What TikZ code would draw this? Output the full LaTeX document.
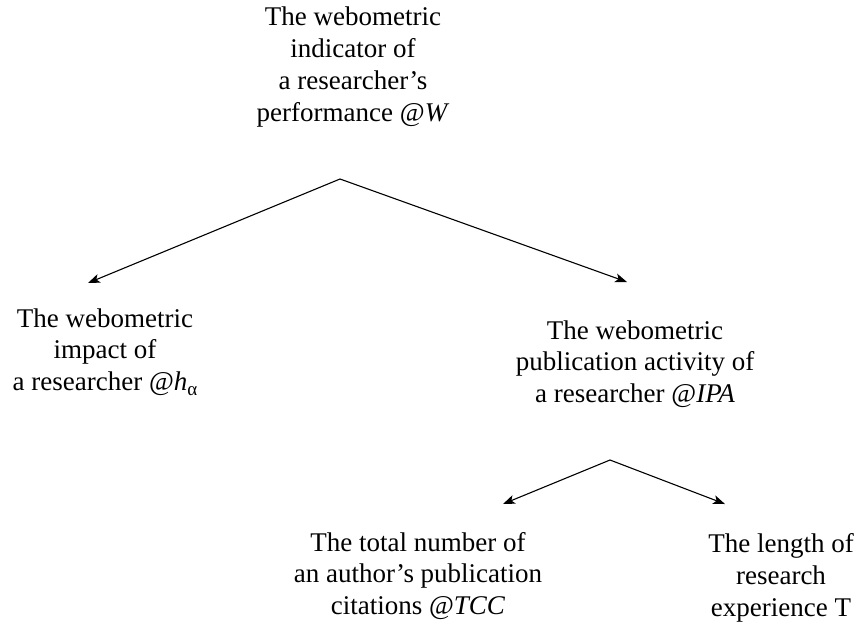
\documentclass[tikz,border=0pt]{standalone}
\usepackage{fontspec}
\setmainfont{Liberation Serif}
\usepackage{tikz}
\usetikzlibrary{positioning,arrows.meta,calc}

\begin{document}
\begin{tikzpicture}
  [
      x=1pt, y=-1pt,
      term/.style={align=center, inner sep=0pt, font=\fontsize{27}{31.8}\selectfont},
      branch/.style={-{Stealth[length=12pt, width=9pt, inset=3pt]}, line width=1.1pt},
    ]
    \useasboundingbox (0,0) rectangle (858,626);

    \node (W) [term] at (353,67) {The webometric\\indicator of\\a researcher’s\\performance @\textit{W}};
    \node (halpha) [term] at (105,352) {The webometric\\impact of\\a researcher @\textit{h}\raisebox{-0.4ex}{\fontsize{19}{19}\selectfont α}};
    \node (IPA) [term] at (635,364) {The webometric\\publication activity of\\a researcher @\textit{IPA}};
    \node (TCC) [term] at (418,576) {The total number of\\an author’s publication\\citations @\textit{TCC}};
    \node (T) [term] at (781,578) {The length of\\research\\experience T};

    \coordinate (split W) at (340,179);
    \coordinate (to halpha) at (88,283);
    \coordinate (to IPA) at (627,282);
    \coordinate (split IPA) at (610,460);
    \coordinate (to TCC) at (503,504);
    \coordinate (to T) at (725,504);

    \foreach \i/\j in {split W/to halpha, split W/to IPA, split IPA/to TCC, split IPA/to T}
      \draw [branch] (\i) -- (\j);
  \end{tikzpicture}
\end{document}
